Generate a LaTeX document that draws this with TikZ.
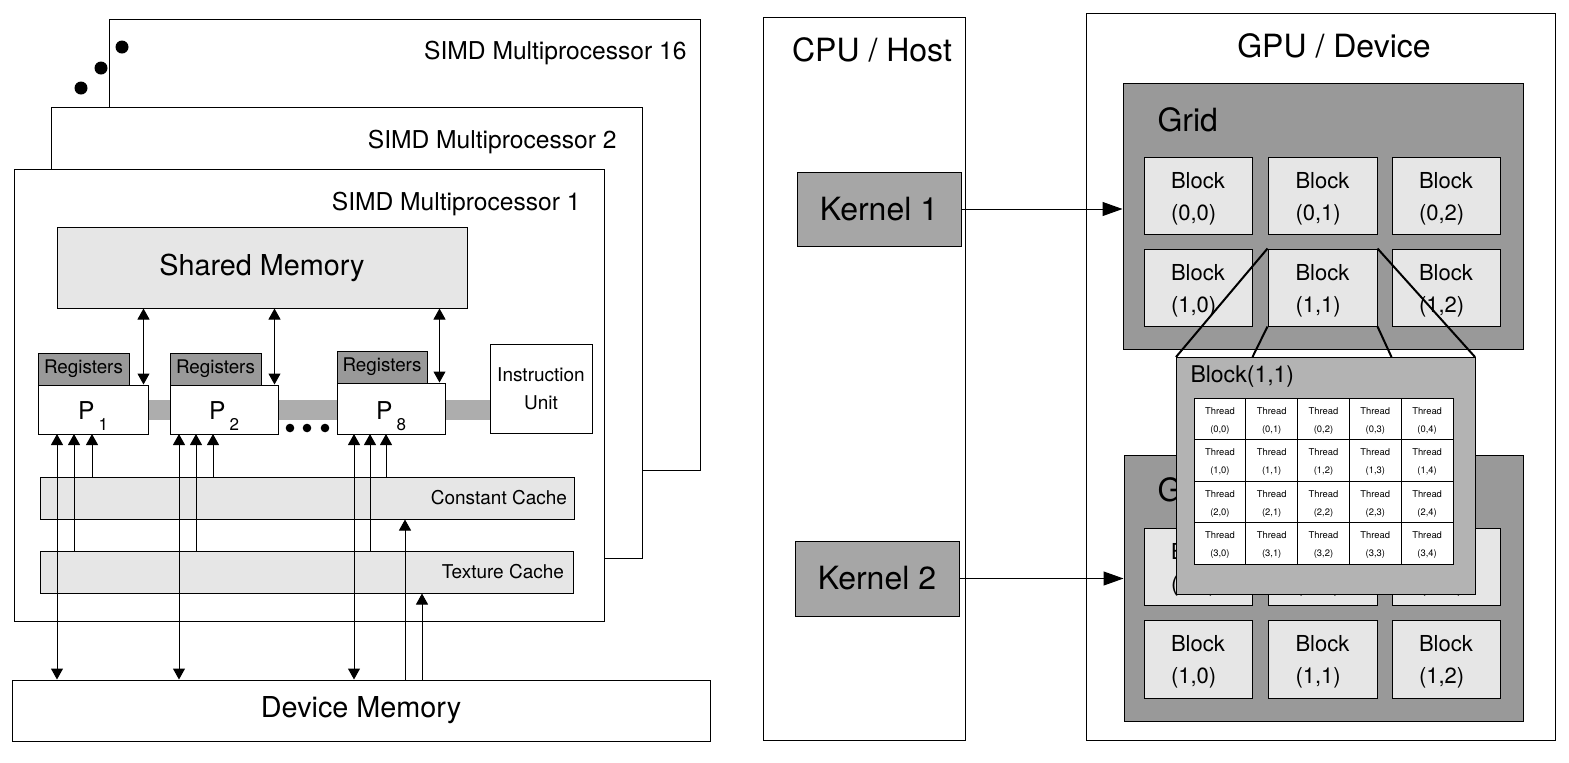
\documentclass[tikz,border=0pt]{standalone}
\usepackage{fontspec}
\setmainfont{TeX Gyre Heros}
\usetikzlibrary{arrows.meta,fit,calc}

\definecolor{hell}{HTML}{E6E6E6}
\definecolor{mittel}{HTML}{B3B3B3}
\definecolor{dunkel}{HTML}{999999}
\definecolor{busgrau}{HTML}{ADADAD}
\definecolor{kerngrau}{HTML}{A6A6A6}

\tikzset{
  kasten/.style={draw=black, fill=white, inner sep=0pt},
  hellkasten/.style={kasten, fill=hell},
  regkasten/.style={kasten, fill=dunkel},
  kernkasten/.style={kasten, fill=kerngrau},
  gridkasten/.style={kasten, fill=dunkel},
  blockkasten/.style={kasten, fill=hell},
  zelle/.style={kasten},
  blocktext/.style={align=left, yshift=-1.5pt, font=\fontsize{11}{16}\selectfont},
  zelltext/.style={align=center, yshift=-1pt, font=\fontsize{4.7}{9}\selectfont},
  punkt/.style={circle, fill=black, minimum size=6.5pt, inner sep=0pt},
  kleinpunkt/.style={circle, fill=black, minimum size=4.3pt, inner sep=0pt},
  gross/.style={font=\fontsize{12.3}{14}\selectfont},
  mem/.style={font=\fontsize{14.4}{17}\selectfont},
  titel/.style={font=\fontsize{16}{19}\selectfont},
  klein/.style={font=\fontsize{9.5}{14}\selectfont},
  reg/.style={font=\fontsize{9.4}{11}\selectfont},
}

\begin{document}
\begin{tikzpicture}[>={Triangle[length=5.5pt,width=6pt]}, x=0.5pt, y=-0.5pt, inner sep=0pt, line width=0.5pt]

	\useasboundingbox (0,0) rectangle (1569,762);

	% Multiprozessoren
	\node[kasten, fit={(109,19)(700,470)}] (mp16) {};
	\node[kasten, fit={(51,107)(642,558)}] (mp2) {};
	\node[kasten, fit={(14,169)(604,621)}] (mp1) {};

	\node[gross, anchor=east] (l16) at (687,53) {SIMD Multiprocessor 16};
	\node[gross, anchor=east] (l2) at (617,142) {SIMD Multiprocessor 2};
	\node[gross, anchor=east] (l1) at (581,204) {SIMD Multiprocessor 1};

	\node[punkt] (e1) at (122,47) {};
	\node[punkt] (e2) at (101,68) {};
	\node[punkt] (e3) at (81,88) {};

	\node[hellkasten, fit={(57,227)(467,308)}, label={[mem]center:Shared Memory}] (sm) {};

	% Bus
	\fill[busgrau] (148,400) rectangle (490,420);

	\node[regkasten, fit={(38,353)(129,385)}, label={[reg]center:Registers}] (r1) {};
	\node[regkasten, fit={(170,353)(261,385)}, label={[reg]center:Registers}] (r2) {};
	\node[regkasten, fit={(337,351)(427,383)}, label={[reg]center:Registers}] (r8) {};

	\node[kasten, fit={(38,385)(148,434)}] (p1) {};
	\node[kasten, fit={(170,385)(278,434)}] (p2) {};
	\node[kasten, fit={(337,383)(445,434)}] (p8) {};

	\node[gross, anchor=base] (P1) at (93,419) {P\,\raisebox{-5.5pt}{\fontsize{8.5}{8.5}\selectfont 1}};
	\node[gross, anchor=base] (P2) at (224,419) {P\,\raisebox{-5.5pt}{\fontsize{8.5}{8.5}\selectfont 2}};
	\node[gross, anchor=base] (P8) at (391,419) {P\,\raisebox{-5.5pt}{\fontsize{8.5}{8.5}\selectfont 8}};

	\node[kleinpunkt] (f1) at (290,428) {};
	\node[kleinpunkt] (f2) at (307,428) {};
	\node[kleinpunkt] (f3) at (325,428) {};

	\node[kasten, fit={(490,344)(592,433)}, label={[klein, align=center]center:Instruction\\Unit}] (iu) {};

	\node[hellkasten, fit={(40,477)(574,519)}] (cc) {};
	\node[klein, anchor=east] (ccl) at ($(cc.east)+(-7,0)$) {Constant Cache};
	\node[hellkasten, fit={(40,551)(573,593)}] (tc) {};
	\node[klein, anchor=east] (tcl) at ($(tc.east)+(-9,0)$) {Texture Cache};

	\node[kasten, fit={(12,680)(710,741)}, label={[mem]center:Device Memory}] (dm) {};

	% Pfeile
	\coordinate (a1) at ($(p1.north east)+(-5,0)$);
	\coordinate (a2) at ($(p2.north east)+(-4,0)$);
	\coordinate (a8) at ($(p8.north east)+(-6,0)$);
	\draw[<->] (sm.south -| a1) -- (a1);
	\draw[<->] (sm.south -| a2) -- (a2);
	\draw[<->] (sm.south -| a8) -- (a8);

	\coordinate (q11) at (57,434);
	\coordinate (q12) at (74,434);
	\coordinate (q13) at (92,434);
	\coordinate (q21) at (179,434);
	\coordinate (q22) at (196,434);
	\coordinate (q23) at (213,434);
	\coordinate (q81) at (354,434);
	\coordinate (q82) at (370,434);
	\coordinate (q83) at (386,434);
	\draw[<->] (q11) -- (q11 |- dm.north);
	\draw[<-] (q12) -- (q12 |- tc.north);
	\draw[<-] (q13) -- (q13 |- cc.north);
	\draw[<->] (q21) -- (q21 |- dm.north);
	\draw[<-] (q22) -- (q22 |- tc.north);
	\draw[<-] (q23) -- (q23 |- cc.north);
	\draw[<->] (q81) -- (q81 |- dm.north);
	\draw[<-] (q82) -- (q82 |- tc.north);
	\draw[<-] (q83) -- (q83 |- cc.north);

	\coordinate (s1) at (405,680);
	\coordinate (s2) at (422,680);
	\draw[->] (s1) -- (s1 |- cc.south);
	\draw[->] (s2) -- (s2 |- tc.south);

	% Host und Device
	\node[kasten, fit={(763,17)(965,740)}] (cpu) {};
	\node[titel] (cpul) at (872,50) {CPU / Host};
	\node[kasten, fit={(1086,13)(1555,740)}] (gpu) {};
	\node[titel] (gpul) at (1334,46) {GPU / Device};

	\node[kernkasten, fit={(797,172)(961,246)}, label={[titel]center:Kernel 1}] (k1) {};
	\node[kernkasten, fit={(795,541)(959,616)}, label={[titel]center:Kernel 2}] (k2) {};

	\node[gridkasten, fit={(1123,83)(1523,349)}] (g1) {};
	\node[titel, anchor=west] (g1l) at (1157,120) {Grid};
	\node[blockkasten, fit={(1144,157)(1252,234)}, label={[blocktext]center:{Block\\(0,0)}}] (ga00) {};
	\node[blockkasten, fit={(1268,157)(1377,234)}, label={[blocktext]center:{Block\\(0,1)}}] (ga01) {};
	\node[blockkasten, fit={(1392,157)(1500,234)}, label={[blocktext]center:{Block\\(0,2)}}] (ga02) {};
	\node[blockkasten, fit={(1144,249)(1252,326)}, label={[blocktext]center:{Block\\(1,0)}}] (ga10) {};
	\node[blockkasten, fit={(1268,249)(1377,326)}, label={[blocktext]center:{Block\\(1,1)}}] (ga11) {};
	\node[blockkasten, fit={(1392,249)(1500,326)}, label={[blocktext]center:{Block\\(1,2)}}] (ga12) {};

	\node[gridkasten, fit={(1124,455)(1523,721)}] (g2) {};
	\node[titel, anchor=west] (g2l) at (1157,490) {Grid};
	\node[blockkasten, fit={(1144,528)(1252,605)}, label={[blocktext]center:{Block\\(0,0)}}] (gb00) {};
	\node[blockkasten, fit={(1268,528)(1377,605)}, label={[blocktext]center:{Block\\(0,1)}}] (gb01) {};
	\node[blockkasten, fit={(1392,528)(1500,605)}, label={[blocktext]center:{Block\\(0,2)}}] (gb02) {};
	\node[blockkasten, fit={(1144,620)(1252,698)}, label={[blocktext]center:{Block\\(1,0)}}] (gb10) {};
	\node[blockkasten, fit={(1268,620)(1377,698)}, label={[blocktext]center:{Block\\(1,1)}}] (gb11) {};
	\node[blockkasten, fit={(1392,620)(1500,698)}, label={[blocktext]center:{Block\\(1,2)}}] (gb12) {};

	\draw[-{Triangle[length=10pt,width=7pt]}] (k1.east) -- (k1.east -| g1.west);
	\draw[-{Triangle[length=10pt,width=7pt]}] (k2.east) -- (k2.east -| g2.west);

	% Ausschnitt Block(1,1)
	\coordinate (pl) at (1176,357);
	\coordinate (pr) at (1475,357);
	\draw[line width=1pt] (ga11.north west) -- (pl);
	\draw[line width=1pt] (ga11.north east) -- (pr);
	\draw[line width=1pt] (ga11.south west) -- (pl -| ga10.east);
	\draw[line width=1pt] (ga11.south east) -- (pl -| ga12.west);

	\node[kasten, fill=mittel, fit={(1176,357)(1475,594)}] (pop) {};
	\node[font=\fontsize{11.5}{14}\selectfont, anchor=west] (popl) at (1190,377) {Block(1,1)};
	\foreach \r in {0,...,3}{
		\foreach \c in {0,...,4}{
			\node[zelle, fit={({1194+51.8*\c},{398+41.5*\r}) ({1194+51.8*(\c+1)},{398+41.5*(\r+1)})}, label={[zelltext]center:{Thread\\(\r,\c)}}] (t\r\c) {};
		}
	}
\end{tikzpicture}
\end{document}
